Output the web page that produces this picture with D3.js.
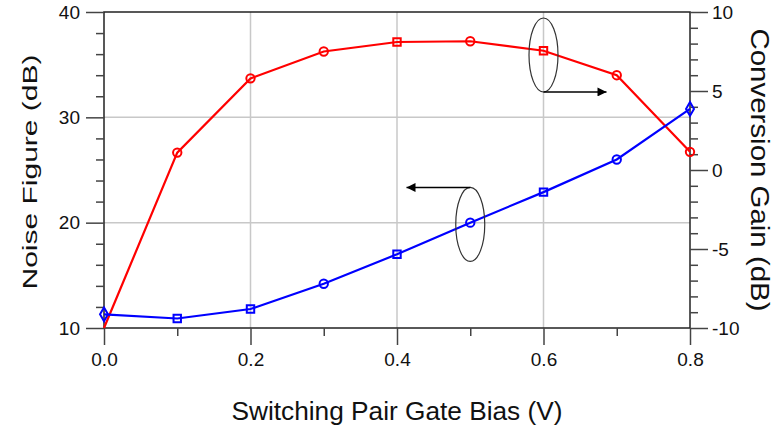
<!DOCTYPE html>
<html>
<head>
<meta charset="utf-8">
<script src="https://cdn.jsdelivr.net/npm/d3@7"></script>
<style>
  body { margin: 0; background: #fff; }
  svg { display: block; font-family: "Liberation Sans", Arial, sans-serif; }
</style>
</head>
<body>
<svg class="chart"></svg>
<script>
const width = 776;
const height = 433;
const margin = { top: 12, right: 86, bottom: 105, left: 104 };

// data
const bias = [0, 0.1, 0.2, 0.3, 0.4, 0.5, 0.6, 0.7, 0.8];
const noiseFigure = [11.3, 10.9, 11.8, 14.2, 17.0, 20.0, 22.9, 26.0, 30.8];
const convGain = [-10, 1.1, 5.8, 7.5, 8.1, 8.15, 7.55, 6.0, 1.15];
const nfMarkers = ["diamond", "square", "square", "circle", "square", "circle", "square", "circle", "diamond"];
const cgMarkers = ["none", "circle", "circle", "circle", "square", "circle", "square", "circle", "circle"];

const xTicks = [0, 0.2, 0.4, 0.6, 0.8];
const xMinor = [0.1, 0.3, 0.5, 0.7];
const nfTicks = [10, 20, 30, 40];
const cgTicks = [-10, -5, 0, 5, 10];

const svg = d3.select(".chart").attr("width", width).attr("height", height);

const x = d3.scaleLinear().domain([0, 0.8]).range([margin.left, width - margin.right]);
const yL = d3.scaleLinear().domain([10, 40]).range([height - margin.bottom, margin.top]);
const yR = d3.scaleLinear().domain([-10, 10]).range([height - margin.bottom, margin.top]);

const x0 = margin.left, x1 = width - margin.right;
const y0 = height - margin.bottom, y1 = margin.top;

// grid
const grid = svg.append("g").attr("stroke", "#c8c8c8").attr("stroke-width", 1.5);
grid.selectAll(".gx").data(xTicks.slice(1, -1)).join("line")
  .attr("x1", d => x(d)).attr("x2", d => x(d)).attr("y1", y0).attr("y2", y1);
grid.selectAll(".gy").data(nfTicks.slice(1, -1)).join("line")
  .attr("y1", d => yL(d)).attr("y2", d => yL(d)).attr("x1", x0).attr("x2", x1);

// frame
svg.append("rect").attr("x", x0).attr("y", y1).attr("width", x1 - x0).attr("height", y0 - y1)
  .attr("fill", "none").attr("stroke", "#222").attr("stroke-width", 1.5);

// axes
const xAxis = svg.append("g").attr("transform", `translate(0,${y0})`)
  .call(d3.axisBottom(x).tickValues(xTicks).tickFormat(d3.format(".1f")).tickSize(17).tickPadding(8));
const xAxisMinor = svg.append("g").attr("transform", `translate(0,${y0})`)
  .call(d3.axisBottom(x).tickValues(xMinor).tickFormat("").tickSize(8));

const lAxis = svg.append("g").attr("transform", `translate(${x0},0)`)
  .call(d3.axisLeft(yL).tickValues(nfTicks).tickSize(18).tickPadding(6));
const lAxisMinor = svg.append("g").attr("transform", `translate(${x0},0)`)
  .call(d3.axisLeft(yL).tickValues(d3.range(12, 40, 2).filter(v => v % 10 !== 0)).tickFormat("").tickSize(8));

const rAxis = svg.append("g").attr("transform", `translate(${x1},0)`)
  .call(d3.axisRight(yR).tickValues(cgTicks).tickFormat(d => String(d)).tickSize(18).tickPadding(4));
const rAxisMinor = svg.append("g").attr("transform", `translate(${x1},0)`)
  .call(d3.axisRight(yR).tickValues(d3.range(-9, 10, 1).filter(v => v % 5 !== 0)).tickFormat("").tickSize(8));

[xAxis, xAxisMinor, lAxis, lAxisMinor, rAxis, rAxisMinor].forEach(g => {
  g.select(".domain").remove();
  g.selectAll("line").attr("stroke", "#444").attr("stroke-width", 1.5);
  g.selectAll("text").attr("fill", "#111").style("font-size", "19px");
});

// axis titles
svg.append("text")
  .attr("x", (x0 + x1) / 2).attr("y", 420)
  .attr("text-anchor", "middle").style("font-size", "25px").attr("fill", "#111")
  .attr("textLength", 331).attr("lengthAdjust", "spacingAndGlyphs")
  .text("Switching Pair Gate Bias (V)");

svg.append("text")
  .attr("transform", `translate(37,172) rotate(-90)`)
  .attr("text-anchor", "middle").style("font-size", "21px").attr("fill", "#111")
  .attr("textLength", 235).attr("lengthAdjust", "spacingAndGlyphs")
  .text("Noise Figure (dB)");

svg.append("text")
  .attr("transform", `translate(751,170) rotate(90)`)
  .attr("text-anchor", "middle").style("font-size", "25px").attr("fill", "#111")
  .attr("textLength", 283).attr("lengthAdjust", "spacingAndGlyphs")
  .text("Conversion Gain (dB)");

// series
function drawSeries(values, yScale, markers, color) {
  const pts = bias.map((b, i) => ({ x: b, y: values[i], m: markers[i] }));
  svg.append("path").datum(pts)
    .attr("fill", "none").attr("stroke", color).attr("stroke-width", 2.2)
    .attr("d", d3.line().x(d => x(d.x)).y(d => yScale(d.y)));
  const sym = { circle: d3.symbolCircle, square: d3.symbolSquare, diamond: d3.symbolDiamond };
  svg.append("g").selectAll("path").data(pts.filter(d => d.m !== "none")).join("path")
    .attr("transform", d => `translate(${x(d.x)},${yScale(d.y)})`)
    .attr("d", d => d3.symbol(sym[d.m], 55)())
    .attr("fill", "none").attr("stroke", color).attr("stroke-width", 2);
}
drawSeries(convGain, yR, cgMarkers, "#ff0000");
drawSeries(noiseFigure, yL, nfMarkers, "#0000ff");

// annotations: ellipse around a curve plus an arrow pointing to its axis
svg.append("defs").append("marker")
  .attr("id", "arrow").attr("viewBox", "0 0 10 10").attr("refX", 10).attr("refY", 5)
  .attr("markerWidth", 12).attr("markerHeight", 9).attr("markerUnits", "userSpaceOnUse")
  .attr("orient", "auto")
  .append("path").attr("d", "M0,0L10,5L0,10Z").attr("fill", "#000");

function callout(cx, cy, toX, fromTop) {
  const rx = 14.5, ry = 37;
  svg.append("ellipse").attr("cx", cx).attr("cy", cy).attr("rx", rx).attr("ry", ry)
    .attr("fill", "none").attr("stroke", "#333").attr("stroke-width", 1.2);
  const ay = fromTop ? cy - ry : cy + ry;
  svg.append("line").attr("x1", cx).attr("y1", ay).attr("x2", toX).attr("y2", ay)
    .attr("stroke", "#000").attr("stroke-width", 1.5).attr("marker-end", "url(#arrow)");
}
callout(x(0.6), yR(7.28), x(0.686), false);
callout(x(0.5), yL(19.83), x(0.413), true);
</script>
</body>
</html>
